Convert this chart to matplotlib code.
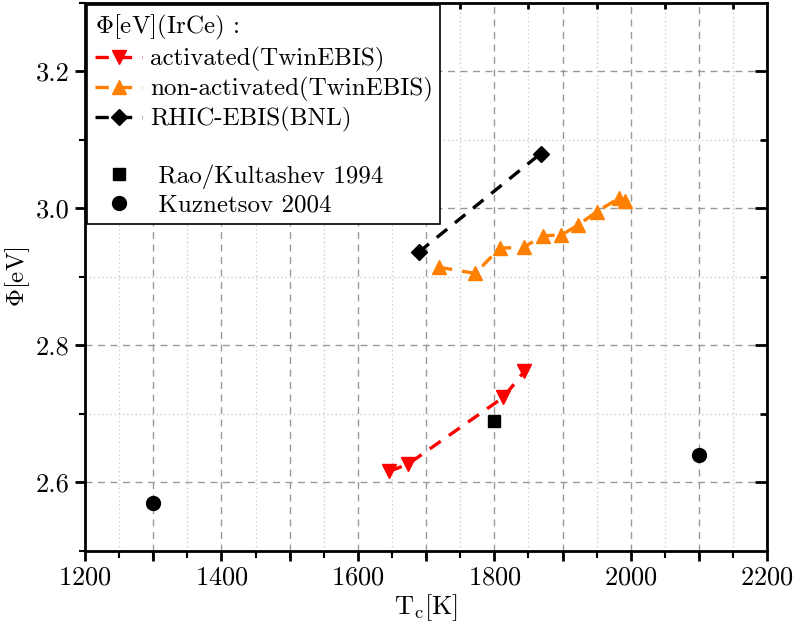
import matplotlib
matplotlib.use("Agg")
import matplotlib.pyplot as plt
from matplotlib.lines import Line2D
import numpy as np

plt.rcParams['font.family'] = 'cmr10'
plt.rcParams['mathtext.fontset'] = 'cm'
plt.rcParams['axes.unicode_minus'] = False
plt.rcParams['axes.formatter.use_mathtext'] = True

# data
act_T = [1646, 1674, 1813, 1844]
act_phi = [2.616, 2.627, 2.724, 2.762]

nonact_T = [1719, 1772, 1808, 1843, 1871, 1898, 1922, 1950, 1983, 1992]
nonact_phi = [2.914, 2.905, 2.942, 2.943, 2.960, 2.961, 2.975, 2.995, 3.015, 3.011]

rhic_T = [1689, 1868]
rhic_phi = [2.936, 3.080]

rao_T = [1800]
rao_phi = [2.690]

kuz_T = [1300, 2100]
kuz_phi = [2.570, 2.640]

fig = plt.figure(figsize=(7.98, 6.26), dpi=100)
ax = fig.add_axes([0.1065, 0.12, 0.855, 0.8755])

# grid: dashed every 100 K / 0.2 eV, dotted in between
for x in np.arange(1300, 2200, 100):
    ax.axvline(x, color='#999999', lw=1.0, ls=(0, (5, 4)), zorder=0)
for x in np.arange(1250, 2200, 100):
    ax.axvline(x, color='#cccccc', lw=1.0, ls=(0, (1, 2)), zorder=0)
for y in [2.6, 2.8, 3.0, 3.2]:
    ax.axhline(y, color='#999999', lw=1.0, ls=(0, (5, 4)), zorder=0)
for y in [2.7, 2.9, 3.1]:
    ax.axhline(y, color='#cccccc', lw=1.0, ls=(0, (1, 2)), zorder=0)

dash = (0, (4, 3))
ax.plot(act_T, act_phi, color='red', ls=dash, lw=2.4, marker='v', ms=10,
        label='activated(TwinEBIS)', zorder=3)
ax.plot(nonact_T, nonact_phi, color='#ff8000', ls=dash, lw=2.4, marker='^', ms=10,
        label='non-activated(TwinEBIS)', zorder=3)
ax.plot(rhic_T, rhic_phi, color='black', ls=dash, lw=2.4, marker='D', ms=8,
        label='RHIC-EBIS(BNL)', zorder=3)
ax.plot(rao_T, rao_phi, color='black', ls='none', marker='s', ms=9, zorder=3)
ax.plot(kuz_T, kuz_phi, color='black', ls='none', marker='o', ms=10, zorder=3)

ax.set_xlim(1200, 2200)
ax.set_ylim(2.5, 3.3)
ax.set_xticks(np.arange(1200, 2201, 200))
ax.set_xticks(np.arange(1200, 2201, 50), minor=True)
ax.set_yticks([2.6, 2.8, 3.0, 3.2])
ax.set_yticklabels(['2.6', '2.8', '3.0', '3.2'])
ax.set_yticks(np.arange(2.5, 3.31, 0.1), minor=True)

# bottom/left ticks outward; top/right inward
ax.tick_params(axis='both', which='major', direction='out', length=7, width=2,
               labelsize=19, pad=4)
ax.tick_params(axis='both', which='minor', direction='out', length=4, width=1.5)
ax.xaxis.set_tick_params(which='minor', length=5)

for s in ax.spines.values():
    s.set_linewidth(2)

# extra 100 K ticks on the bottom (unlabelled, major length)
sec = ax.secondary_xaxis('bottom')
sec.set_xticks(np.arange(1300, 2200, 200))
sec.set_xticklabels([])
sec.tick_params(direction='out', length=7, width=2)
sec.spines['bottom'].set_visible(False)

top = ax.secondary_xaxis('top')
top.set_xticks(np.arange(1250, 2200, 100))
top.set_xticklabels([])
top.tick_params(direction='in', length=4, width=2)

right = ax.secondary_yaxis('right')
right.set_yticks([2.6, 2.8, 3.0, 3.2])
right.set_yticks([2.7, 2.9, 3.1], minor=True)
right.set_yticklabels([])
right.tick_params(which='major', direction='in', length=9, width=2)
right.tick_params(which='minor', direction='in', length=5, width=2)

ax.set_xlabel(r'T$_\mathrm{c}$[K]', fontsize=19, labelpad=2)
ax.set_ylabel(r'$\Phi$[eV]', fontsize=18)
ax.yaxis.set_label_coords(-0.078, 0.5)

h, l = ax.get_legend_handles_labels()
blank = Line2D([], [], ls='none')
sq = Line2D([], [], color='black', ls='none', marker='s', ms=9)
ci = Line2D([], [], color='black', ls='none', marker='o', ms=10)
h += [blank, sq, ci]
l += [' ', ' Rao/Kultashev 1994', ' Kuznetsov 2004']
leg = ax.legend(h, l, loc='upper left', title=r'$\Phi$[eV](IrCe) :',
                alignment='left', fontsize=18, title_fontsize=18,
                frameon=True, fancybox=False, edgecolor='black',
                borderaxespad=0.1, handlelength=1.9, handletextpad=0.3,
                labelspacing=0.2, borderpad=0.3, framealpha=1)
leg.get_frame().set_linewidth(1.2)
leg.set_zorder(5)

fig.savefig('out.png', dpi=100)
